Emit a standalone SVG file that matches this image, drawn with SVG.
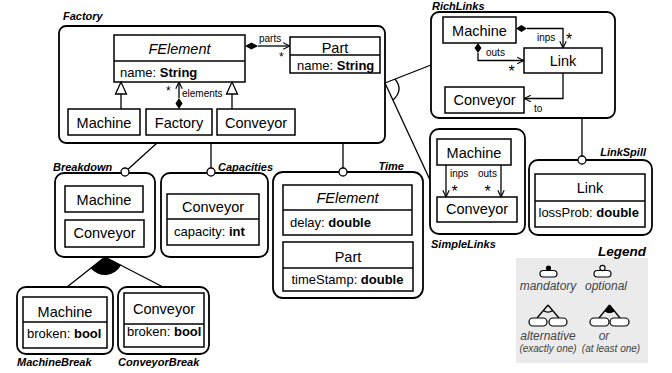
<svg xmlns="http://www.w3.org/2000/svg" width="672" height="373" viewBox="0 0 672 373">
<defs>
<marker id="open" viewBox="0 0 10 10" refX="9.5" refY="5" markerWidth="8" markerHeight="8" markerUnits="userSpaceOnUse" orient="auto">
<path d="M1,1 L9.5,5 L1,9" fill="none" stroke="#000" stroke-width="1.4"/>
</marker>
</defs>
<style>
text{font-family:"Liberation Sans",Arial,sans-serif;fill:#000}
.feat{fill:#fff;stroke:#000;stroke-width:1.8}
.cls{fill:#fff;stroke:#000;stroke-width:1.5}
.div{stroke:#000;stroke-width:1.5}
.fl{font-size:11px;font-weight:bold;font-style:italic}
.cn{font-size:14.5px;text-anchor:middle}
.at{font-size:13px}
.b{font-weight:bold}
.sm{font-size:10px}
.ast{font-size:12px}
.astb{font-size:16px}
.ln{fill:none;stroke:#000;stroke-width:1.3}
.opt{fill:#fff;stroke:#000;stroke-width:1.3}
.lg{font-size:12px;font-style:italic;fill:#444;text-anchor:middle}
.lgs{font-size:10px;font-style:italic;fill:#444;text-anchor:middle}
.pill{fill:#fff;stroke:#000;stroke-width:1.2}
</style>

<g id="factory">
<rect class="feat" x="59" y="26" width="326" height="117" rx="7"/>
<text class="fl" x="63" y="20">Factory</text>
<g id="factory-felement">
<rect class="cls" x="114" y="35" width="131" height="47"/>
<line class="div" x1="114" y1="61" x2="245" y2="61"/>
<text class="cn" x="179.5" y="54" font-style="italic">FElement</text>
<text class="at" x="120" y="77">name: <tspan class="b">String</tspan></text>
</g>
<g id="factory-part">
<rect class="cls" x="290" y="37" width="90" height="36"/>
<line class="div" x1="290" y1="55" x2="380" y2="55"/>
<text class="cn" x="335" y="52.5">Part</text>
<text class="at" x="297" y="69.5">name: <tspan class="b">String</tspan></text>
</g>
<g id="factory-machine">
<rect class="cls" x="68" y="109" width="72" height="26"/>
<text class="cn" x="104" y="127.5">Machine</text>
</g>
<g id="factory-factory">
<rect class="cls" x="146" y="109" width="66" height="26"/>
<text class="cn" x="179" y="127.5">Factory</text>
</g>
<g id="factory-conveyor">
<rect class="cls" x="217" y="109" width="78" height="26"/>
<text class="cn" x="256" y="127.5">Conveyor</text>
</g>
</g>

<g id="richlinks">
<rect class="feat" x="431" y="12" width="184" height="106" rx="8"/>
<text class="fl" x="432" y="9.5">RichLinks</text>
<g id="richlinks-machine">
<rect class="cls" x="443" y="17" width="73" height="26"/>
<text class="cn" x="479.5" y="35.5">Machine</text>
</g>
<g id="richlinks-link">
<rect class="cls" x="524" y="48" width="78" height="25"/>
<text class="cn" x="563" y="66">Link</text>
</g>
<g id="richlinks-conveyor">
<rect class="cls" x="445" y="87" width="79" height="26"/>
<text class="cn" x="484.5" y="104.5">Conveyor</text>
</g>
</g>

<g id="simplelinks">
<rect class="feat" x="430" y="129" width="95" height="105" rx="9"/>
<text class="fl" x="431" y="248">SimpleLinks</text>
<g id="simplelinks-machine">
<rect class="cls" x="437" y="139" width="74" height="26"/>
<text class="cn" x="474" y="157.5">Machine</text>
</g>
<g id="simplelinks-conveyor">
<rect class="cls" x="437" y="197" width="80" height="25"/>
<text class="cn" x="477" y="214">Conveyor</text>
</g>
</g>

<g id="linkspill">
<rect class="feat" x="529" y="160" width="123" height="75" rx="9"/>
<text class="fl" x="646" y="156" text-anchor="end">LinkSpill</text>
<g id="linkspill-link">
<rect class="cls" x="535" y="174" width="110" height="53"/>
<line class="div" x1="535" y1="201" x2="645" y2="201"/>
<text class="cn" x="590" y="193">Link</text>
<text class="at" x="538.5" y="217">lossProb: <tspan class="b">double</tspan></text>
</g>
</g>

<g id="time">
<rect class="feat" x="273" y="172" width="150" height="126" rx="10"/>
<text class="fl" x="404" y="169.5" text-anchor="end">Time</text>
<g id="time-felement">
<rect class="cls" x="283" y="185" width="129" height="50"/>
<line class="div" x1="283" y1="210" x2="412" y2="210"/>
<text class="cn" x="347.5" y="203" font-style="italic">FElement</text>
<text class="at" x="290" y="226.5">delay: <tspan class="b">double</tspan></text>
</g>
<g id="time-part">
<rect class="cls" x="283" y="242" width="130" height="49"/>
<line class="div" x1="283" y1="268" x2="413" y2="268"/>
<text class="cn" x="348" y="262">Part</text>
<text class="at" x="291.5" y="283.5">timeStamp: <tspan class="b">double</tspan></text>
</g>
</g>

<g id="breakdown">
<rect class="feat" x="55" y="173" width="100" height="84" rx="9"/>
<text class="fl" x="53" y="170.5">Breakdown</text>
<g id="breakdown-machine">
<rect class="cls" x="65" y="186" width="78" height="26"/>
<text class="cn" x="104" y="204.5">Machine</text>
</g>
<g id="breakdown-conveyor">
<rect class="cls" x="65" y="220" width="79" height="27"/>
<text class="cn" x="104.5" y="237.5">Conveyor</text>
</g>
</g>

<g id="capacities">
<rect class="feat" x="161" y="173" width="107" height="84" rx="9"/>
<text class="fl" x="218" y="170.5">Capacities</text>
<g id="capacities-conveyor">
<rect class="cls" x="167" y="194" width="92" height="51"/>
<line class="div" x1="167" y1="219" x2="259" y2="219"/>
<text class="cn" x="213" y="211.5">Conveyor</text>
<text class="at" x="174" y="236">capacity: <tspan class="b">int</tspan></text>
</g>
</g>

<g id="machinebreak">
<rect class="feat" x="17" y="287" width="96" height="67" rx="9"/>
<text class="fl" x="17" y="366">MachineBreak</text>
<g id="machinebreak-machine">
<rect class="cls" x="23" y="297" width="84" height="51"/>
<line class="div" x1="23" y1="322" x2="107" y2="322"/>
<text class="cn" x="65" y="316.5">Machine</text>
<text class="at" x="27" y="337.5">broken: <tspan class="b">bool</tspan></text>
</g>
</g>

<g id="conveyorbreak">
<rect class="feat" x="118" y="287" width="91" height="67" rx="9"/>
<text class="fl" x="118" y="366">ConveyorBreak</text>
<g id="conveyorbreak-conveyor">
<rect class="cls" x="124" y="293" width="80" height="54"/>
<line class="div" x1="124" y1="324" x2="204" y2="324"/>
<text class="cn" x="164" y="313.5">Conveyor</text>
<text class="at" x="127" y="336">broken: <tspan class="b">bool</tspan></text>
</g>
</g>

<g id="connectors">
<!-- UML: parts -->
<polygon points="245,46 251.5,42.5 258,46 251.5,49.5" fill="#000"/>
<line class="ln" x1="258" y1="46" x2="290" y2="46" marker-end="url(#open)"/>
<text class="sm" x="259" y="42">parts</text>
<text class="ast" x="279" y="61">*</text>
<!-- UML: elements -->
<polygon points="179,98 182.5,103.5 179,109 175.5,103.5" fill="#000"/>
<line class="ln" x1="179" y1="98" x2="179" y2="82" marker-end="url(#open)"/>
<text class="ast" x="166" y="94.5">*</text>
<text class="sm" x="182" y="96.5">elements</text>
<!-- UML: generalizations -->
<line class="ln" x1="121" y1="109" x2="121" y2="94"/>
<polygon points="121,82 115.5,94 126.5,94" fill="#fff" stroke="#000" stroke-width="1.3"/>
<line class="ln" x1="232" y1="109" x2="232" y2="94"/>
<polygon points="232,82 226.5,94 237.5,94" fill="#fff" stroke="#000" stroke-width="1.3"/>
<!-- RichLinks: inps -->
<polygon points="516,28.5 521.5,25 527,28.5 521.5,32" fill="#000"/>
<path class="ln" d="M527,28.5 H563 V48" marker-end="url(#open)"/>
<text class="sm" x="537" y="41">inps</text>
<text class="astb" x="566" y="45">*</text>
<!-- RichLinks: outs -->
<polygon points="478,43 481.5,48 478,53 474.5,48" fill="#000"/>
<path class="ln" d="M478,53 V60.5 H524" marker-end="url(#open)"/>
<text class="sm" x="486" y="55.5">outs</text>
<text class="astb" x="508.5" y="77">*</text>
<!-- RichLinks: to -->
<path class="ln" d="M563,73 V98.5 H524" marker-end="url(#open)"/>
<text class="sm" x="534" y="111.5">to</text>
<!-- SimpleLinks -->
<line class="ln" x1="446" y1="165" x2="446" y2="197" marker-end="url(#open)"/>
<line class="ln" x1="501" y1="165" x2="501" y2="197" marker-end="url(#open)"/>
<text class="sm" x="450" y="176.5">inps</text>
<text class="sm" x="478" y="176.5">outs</text>
<text class="astb" x="451.5" y="197">*</text>
<text class="astb" x="484.5" y="197">*</text>
<!-- feature tree -->
<line class="ln" x1="157" y1="143" x2="128" y2="169.3"/>
<circle class="opt" cx="125" cy="172" r="4"/>
<line class="ln" x1="211" y1="143" x2="211" y2="168"/>
<circle class="opt" cx="211" cy="172" r="4"/>
<line class="ln" x1="343" y1="143" x2="343" y2="168"/>
<circle class="opt" cx="343" cy="172" r="4"/>
<line class="ln" x1="385" y1="83" x2="431" y2="65"/>
<line class="ln" x1="385" y1="83" x2="430" y2="180"/>
<path class="ln" d="M395,79 Q404,90 393,100"/>
<line class="ln" x1="582" y1="118" x2="582" y2="156"/>
<circle class="opt" cx="582" cy="160" r="4"/>
<line class="ln" x1="105" y1="257" x2="67" y2="287"/>
<line class="ln" x1="105" y1="257" x2="163" y2="287"/>
<path d="M105,257 L90.6,267.9 A18,18 0 0,0 121.1,265 Z" fill="#000"/>
</g>

<g id="legend">
<rect x="516" y="258" width="132" height="105" fill="#ebebeb"/>
<text x="646" y="256" text-anchor="end" font-size="13.5" font-weight="bold" font-style="italic">Legend</text>
<rect class="pill" x="540" y="270.5" width="17" height="6.5" rx="3.2"/>
<circle cx="548.5" cy="268" r="2.6" fill="#000"/>
<text class="lg" x="548" y="289.5">mandatory</text>
<rect class="pill" x="594" y="270.5" width="17" height="6.5" rx="3.2"/>
<circle cx="602.5" cy="268" r="2.6" fill="#fff" stroke="#000" stroke-width="1.1"/>
<text class="lg" x="606" y="289.5">optional</text>
<line class="ln" x1="548" y1="305" x2="537" y2="318" stroke-width="1.1"/>
<line class="ln" x1="548" y1="305" x2="559" y2="318" stroke-width="1.1"/>
<path class="ln" d="M543.5,310.4 A7,7 0 0,0 552.5,310.4" stroke-width="1.1"/>
<rect class="pill" x="529" y="318" width="18" height="8" rx="4"/>
<rect class="pill" x="549" y="318" width="18" height="8" rx="4"/>
<text class="lg" x="548" y="339.5">alternative</text>
<text class="lgs" x="548" y="351.5">(exactly one)</text>
<line class="ln" x1="609.5" y1="305" x2="599" y2="318" stroke-width="1.1"/>
<line class="ln" x1="609.5" y1="305" x2="620" y2="318" stroke-width="1.1"/>
<path d="M609.5,305 L604.5,311.2 A8,8 0 0,0 614.5,311.2 Z" fill="#000"/>
<rect class="pill" x="590" y="318" width="19" height="8" rx="4"/>
<rect class="pill" x="610" y="318" width="19" height="8" rx="4"/>
<text class="lg" x="604" y="339.5">or</text>
<text class="lgs" x="611" y="351.5">(at least one)</text>
</g>
</svg>
